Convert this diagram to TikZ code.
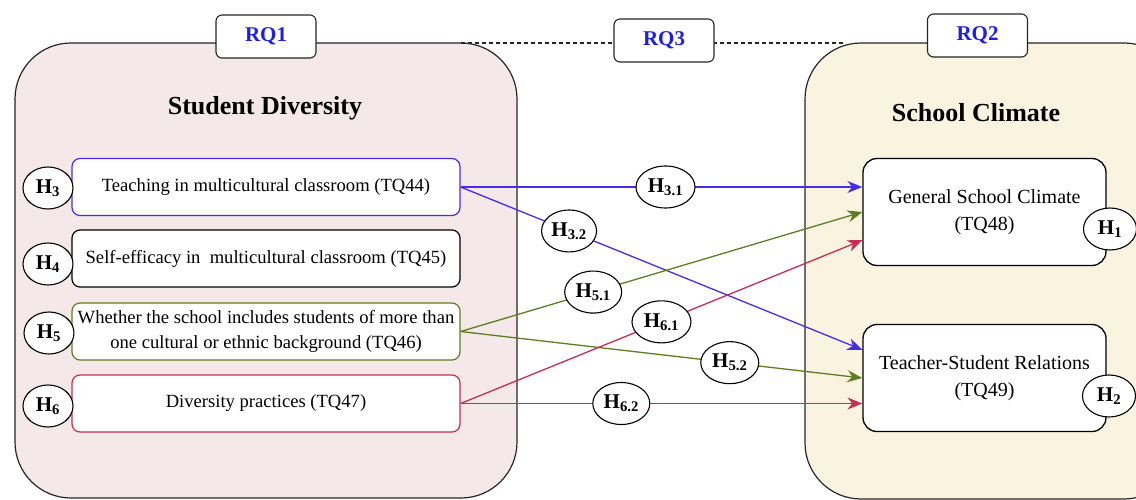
\documentclass[tikz,border=0pt]{standalone}
\usepackage{fontspec}
\setmainfont{Liberation Serif}
\usepackage{xcolor}
\usepackage{tikz}
\usetikzlibrary{arrows.meta,positioning,shapes.geometric}
\definecolor{hblue}{RGB}{70,45,235}
\definecolor{hgreen}{RGB}{95,125,35}
\definecolor{hred}{RGB}{200,45,85}
\definecolor{sdfill}{RGB}{244,232,232}
\definecolor{scfill}{RGB}{250,243,224}
\definecolor{rqblue}{RGB}{30,30,235}

\begin{document}
\begin{tikzpicture}[x=1pt, y=-1pt,
    group/.style={draw=black!85, line width=1.2pt, rounded corners=56pt},
    rqbox/.style={draw=black!85, fill=white, line width=1.1pt, rounded corners=6pt, minimum width=100pt, minimum height=43pt, font=\fontsize{21}{24}\selectfont\bfseries, text=rqblue},
    title/.style={font=\fontsize{26}{29}\selectfont\bfseries},
    item/.style={fill=white, line width=1.2pt, rounded corners=8pt, minimum width=388pt, minimum height=57pt, inner sep=1pt, align=center, font=\fontsize{18.6}{25}\selectfont},
    outcome/.style={draw=black, fill=white, line width=1.3pt, rounded corners=14pt, minimum width=243pt, minimum height=107pt, align=center, font=\fontsize{20}{27}\selectfont},
    hyp/.style={ellipse, draw=black, fill=white, text=black, line width=1.1pt, inner sep=0pt, minimum width=53pt, minimum height=42pt, font=\fontsize{21}{23}\selectfont\bfseries},
    arr/.style={-{Stealth[length=15pt,width=12pt]}, line width=1.3pt}
]
\useasboundingbox (0,0) rectangle (1136,500);

% the two groups
\draw[group, fill=sdfill] (15,43) rectangle (517,498);
\draw[group, fill=scfill] (805,43) rectangle (1180,499);
\coordinate (dl) at (461,43);
\coordinate (dr) at (845,43);
\draw[dash pattern=on 4pt off 3pt, line width=1.1pt, black!85] (dl) -- (dr);

\node[rqbox] (rq1) at (266,36.5) {RQ1};
\node[rqbox] (rq3) at (664,40.5) {RQ3};
\node[rqbox] (rq2) at (977.5,35.5) {RQ2};

\node[title] (sd) at (265,108) {Student Diversity};
\node[title] (sc) at (976,113) {School Climate};

% predictors
\node[item, draw=hblue] (tq44) at (266,187) {Teaching in multicultural classroom (TQ44)};
\node[item, draw=black] (tq45) at (266,258.5) {Self-efficacy in\ \ multicultural classroom (TQ45)};
\node[item, draw=hgreen] (tq46) at (266,331.5) {Whether the school includes students of more than\\one cultural or ethnic background (TQ46)};
\node[item, draw=hred] (tq47) at (266,403.5) {Diversity practices (TQ47)};

\node[hyp, minimum width=50pt] (h3) at (48,188) {H\textsubscript{3}};
\node[hyp, minimum width=50pt] (h4) at (48,264) {H\textsubscript{4}};
\node[hyp, minimum width=50pt] (h5) at (49,333) {H\textsubscript{5}};
\node[hyp, minimum width=50pt] (h6) at (48,406) {H\textsubscript{6}};

% outcomes
\node[outcome] (tq48) at (984.5,212) {General School Climate\\(TQ48)};
\node[outcome] (tq49) at (984.5,378) {Teacher-Student Relations\\(TQ49)};
\node[hyp] (h1) at (1110,229) {H\textsubscript{1}};
\node[hyp] (h2) at (1109,396) {H\textsubscript{2}};

% paths
\draw[arr, hblue] (tq44.east) -- node[hyp, pos=0.51, minimum width=59pt] {H\textsubscript{3.1}} (tq48.west |- tq44.east);
\draw[arr, hblue] (tq44.east) -- node[hyp, pos=0.27, minimum width=55pt] {H\textsubscript{3.2}} (tq49.167);
\draw[arr, hgreen] (tq46.east) -- node[hyp, pos=0.33, minimum width=57pt] {H\textsubscript{5.1}} (tq48.west);
\draw[arr, hgreen] (tq46.east) -- node[hyp, pos=0.67, minimum width=58pt] {H\textsubscript{5.2}} (tq49.west);
\draw[arr, hred] (tq47.east) -- node[hyp, pos=0.5, minimum width=59pt] {H\textsubscript{6.1}} (tq48.193);
\draw[arr, hred] (tq47.east) -- node[hyp, pos=0.4, minimum width=57pt] {H\textsubscript{6.2}} (tq49.west |- tq47.east);
\end{tikzpicture}
\end{document}
